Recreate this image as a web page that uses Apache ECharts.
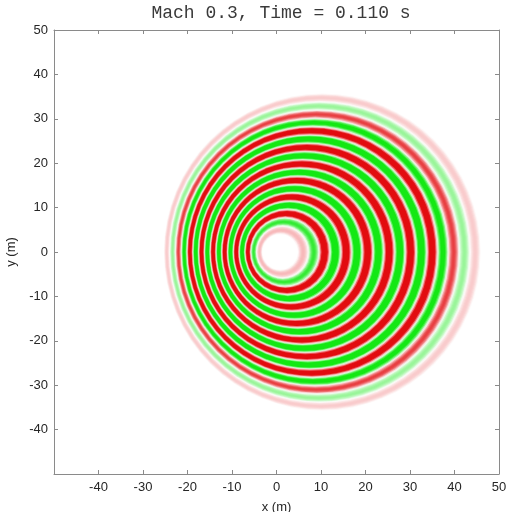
<!DOCTYPE html>
<html>
<head>
<meta charset="utf-8">
<script src="https://cdn.jsdelivr.net/npm/echarts@6/dist/echarts.min.js"></script>
<style>
  html, body { margin: 0; padding: 0; background: #ffffff; }
  #chart { width: 509px; height: 512px; }
</style>
</head>
<body>
<div id="chart"></div>
<script>
// Wavefronts of a source moving left at Mach 0.3, outermost first.
// Each entry is one crest (positive, red) or trough (negative, green):
// centre on the x axis, radius, and signed pressure amplitude.
const ringCenterX = [10.00, 9.44, 8.89, 8.33, 7.77, 7.21, 6.65, 6.10, 5.54,
                     4.98, 4.42, 3.87, 3.31, 2.75, 2.19, 1.63, 1.08];
const ringCenterY = [0, 0, 0, 0, 0, 0, 0, 0, 0, 0, 0, 0, 0, 0, 0, 0, 0];
const ringRadius = [34.67, 32.81, 30.95, 29.09, 27.23, 25.37, 23.51, 21.65, 19.79,
                    17.94, 16.08, 14.22, 12.36, 10.50, 8.64, 6.78, 4.93];
const ringAmplitude = [0.15, -0.3, 0.55, -0.8, 0.95, -1, 1, -1, 1,
                       -1, 1, -1, 1, -1, 0.95, -0.6, 0.2];

const xTicks = [-50, -40, -30, -20, -10, 0, 10, 20, 30, 40, 50];
const titleText = 'Mach 0.3, Time = 0.110 s';

const RED = [226, 12, 16];
const GREEN = [20, 232, 20];
const STEPS = 10;
const GAIN = 1.45;

function blend(base, a) {
  const c = base.map(v => Math.round(255 + (v - 255) * a));
  return 'rgb(' + c[0] + ',' + c[1] + ',' + c[2] + ')';
}

// boundary circle between ring i and ring j (midway), in data units
function between(i, j) {
  return {
    cx: (ringCenterX[i] + ringCenterX[j]) / 2,
    cy: (ringCenterY[i] + ringCenterY[j]) / 2,
    r: (ringRadius[i] + ringRadius[j]) / 2
  };
}
function outerEdge(i) {
  if (i > 0) return between(i - 1, i);
  const n = i + 1;
  return {
    cx: ringCenterX[i] + (ringCenterX[i] - ringCenterX[n]) / 2,
    cy: ringCenterY[i] + (ringCenterY[i] - ringCenterY[n]) / 2,
    r: ringRadius[i] + (ringRadius[i] - ringRadius[n]) / 2
  };
}
function innerEdge(i) {
  const last = ringRadius.length - 1;
  if (i < last) return between(i, i + 1);
  const p = i - 1;
  return {
    cx: ringCenterX[i] - (ringCenterX[p] - ringCenterX[i]) / 2,
    cy: ringCenterY[i] - (ringCenterY[p] - ringCenterY[i]) / 2,
    r: ringRadius[i] - (ringRadius[p] - ringRadius[i]) / 2
  };
}

const ringData = ringRadius.map((r, i) => [ringCenterX[i], ringCenterY[i], r, ringAmplitude[i]]);

function renderRing(params, api) {
  const i = params.dataIndex;
  const A = api.value(3);
  const base = A >= 0 ? RED : GREEN;
  const o = outerEdge(i);
  const n = innerEdge(i);
  const children = [];
  for (let j = 0; j < STEPS; j++) {
    const s = j / STEPS;
    const sm = (j + 0.5) / STEPS;
    const cx = o.cx + (n.cx - o.cx) * s;
    const cy = o.cy + (n.cy - o.cy) * s;
    const r = o.r + (n.r - o.r) * s;
    const p = api.coord([cx, cy]);
    const rp = api.size([r, r])[0];
    const a = Math.min(1, GAIN * Math.abs(A) * Math.sin(Math.PI * sm));
    children.push({ type: 'circle', shape: { cx: p[0], cy: p[1], r: rp },
                    style: { fill: blend(base, a) } });
  }
  if (i === ringRadius.length - 1) {
    const p = api.coord([n.cx, n.cy]);
    children.push({ type: 'circle', shape: { cx: p[0], cy: p[1], r: api.size([n.r, n.r])[0] },
                    style: { fill: '#ffffff' } });
  }
  return { type: 'group', children: children };
}

const axisColor = '#8a8a8a';
const labelFont = { color: '#262626', fontSize: 13, fontFamily: 'Liberation Sans, Arial, sans-serif' };
const hideMin = v => (v === xTicks[0] ? '' : String(v));

function frameAxis(extra) {
  return Object.assign({
    type: 'value', min: xTicks[0], max: xTicks[xTicks.length - 1], interval: 10,
    axisLine: { show: true, onZero: false, lineStyle: { color: axisColor, width: 1 } },
    axisTick: { show: true, inside: true, length: 4, lineStyle: { color: axisColor } },
    splitLine: { show: false }
  }, extra);
}

const chart = echarts.init(document.getElementById('chart'), null, { renderer: 'canvas' });
chart.setOption({
  animation: false,
  backgroundColor: '#ffffff',
  title: {
    text: titleText, left: 276, textAlign: 'center', top: -1,
    textStyle: { fontFamily: 'Liberation Mono, DejaVu Sans Mono, monospace', fontSize: 18,
                 fontWeight: 'normal', color: '#3a3a3a' }
  },
  grid: { left: 54, right: 10, top: 30, bottom: 38, containLabel: false, outerBoundsMode: 'none' },
  xAxis: [
    frameAxis({ position: 'bottom',
      axisLabel: Object.assign({ margin: 7, formatter: hideMin }, labelFont),
      name: 'x (m)', nameLocation: 'middle', nameGap: 27,
      nameTextStyle: labelFont }),
    frameAxis({ position: 'top', axisLabel: { show: false } })
  ],
  yAxis: [
    frameAxis({ position: 'left',
      axisLabel: Object.assign({ margin: 6, formatter: hideMin }, labelFont),
      name: 'y (m)', nameLocation: 'middle', nameGap: 33, nameRotate: 90,
      nameTextStyle: labelFont }),
    frameAxis({ position: 'right', axisLabel: { show: false } })
  ],
  series: [{
    type: 'custom',
    coordinateSystem: 'cartesian2d',
    xAxisIndex: 0, yAxisIndex: 0,
    silent: true,
    clip: true,
    renderItem: renderRing,
    data: ringData
  }]
});
</script>
</body>
</html>
